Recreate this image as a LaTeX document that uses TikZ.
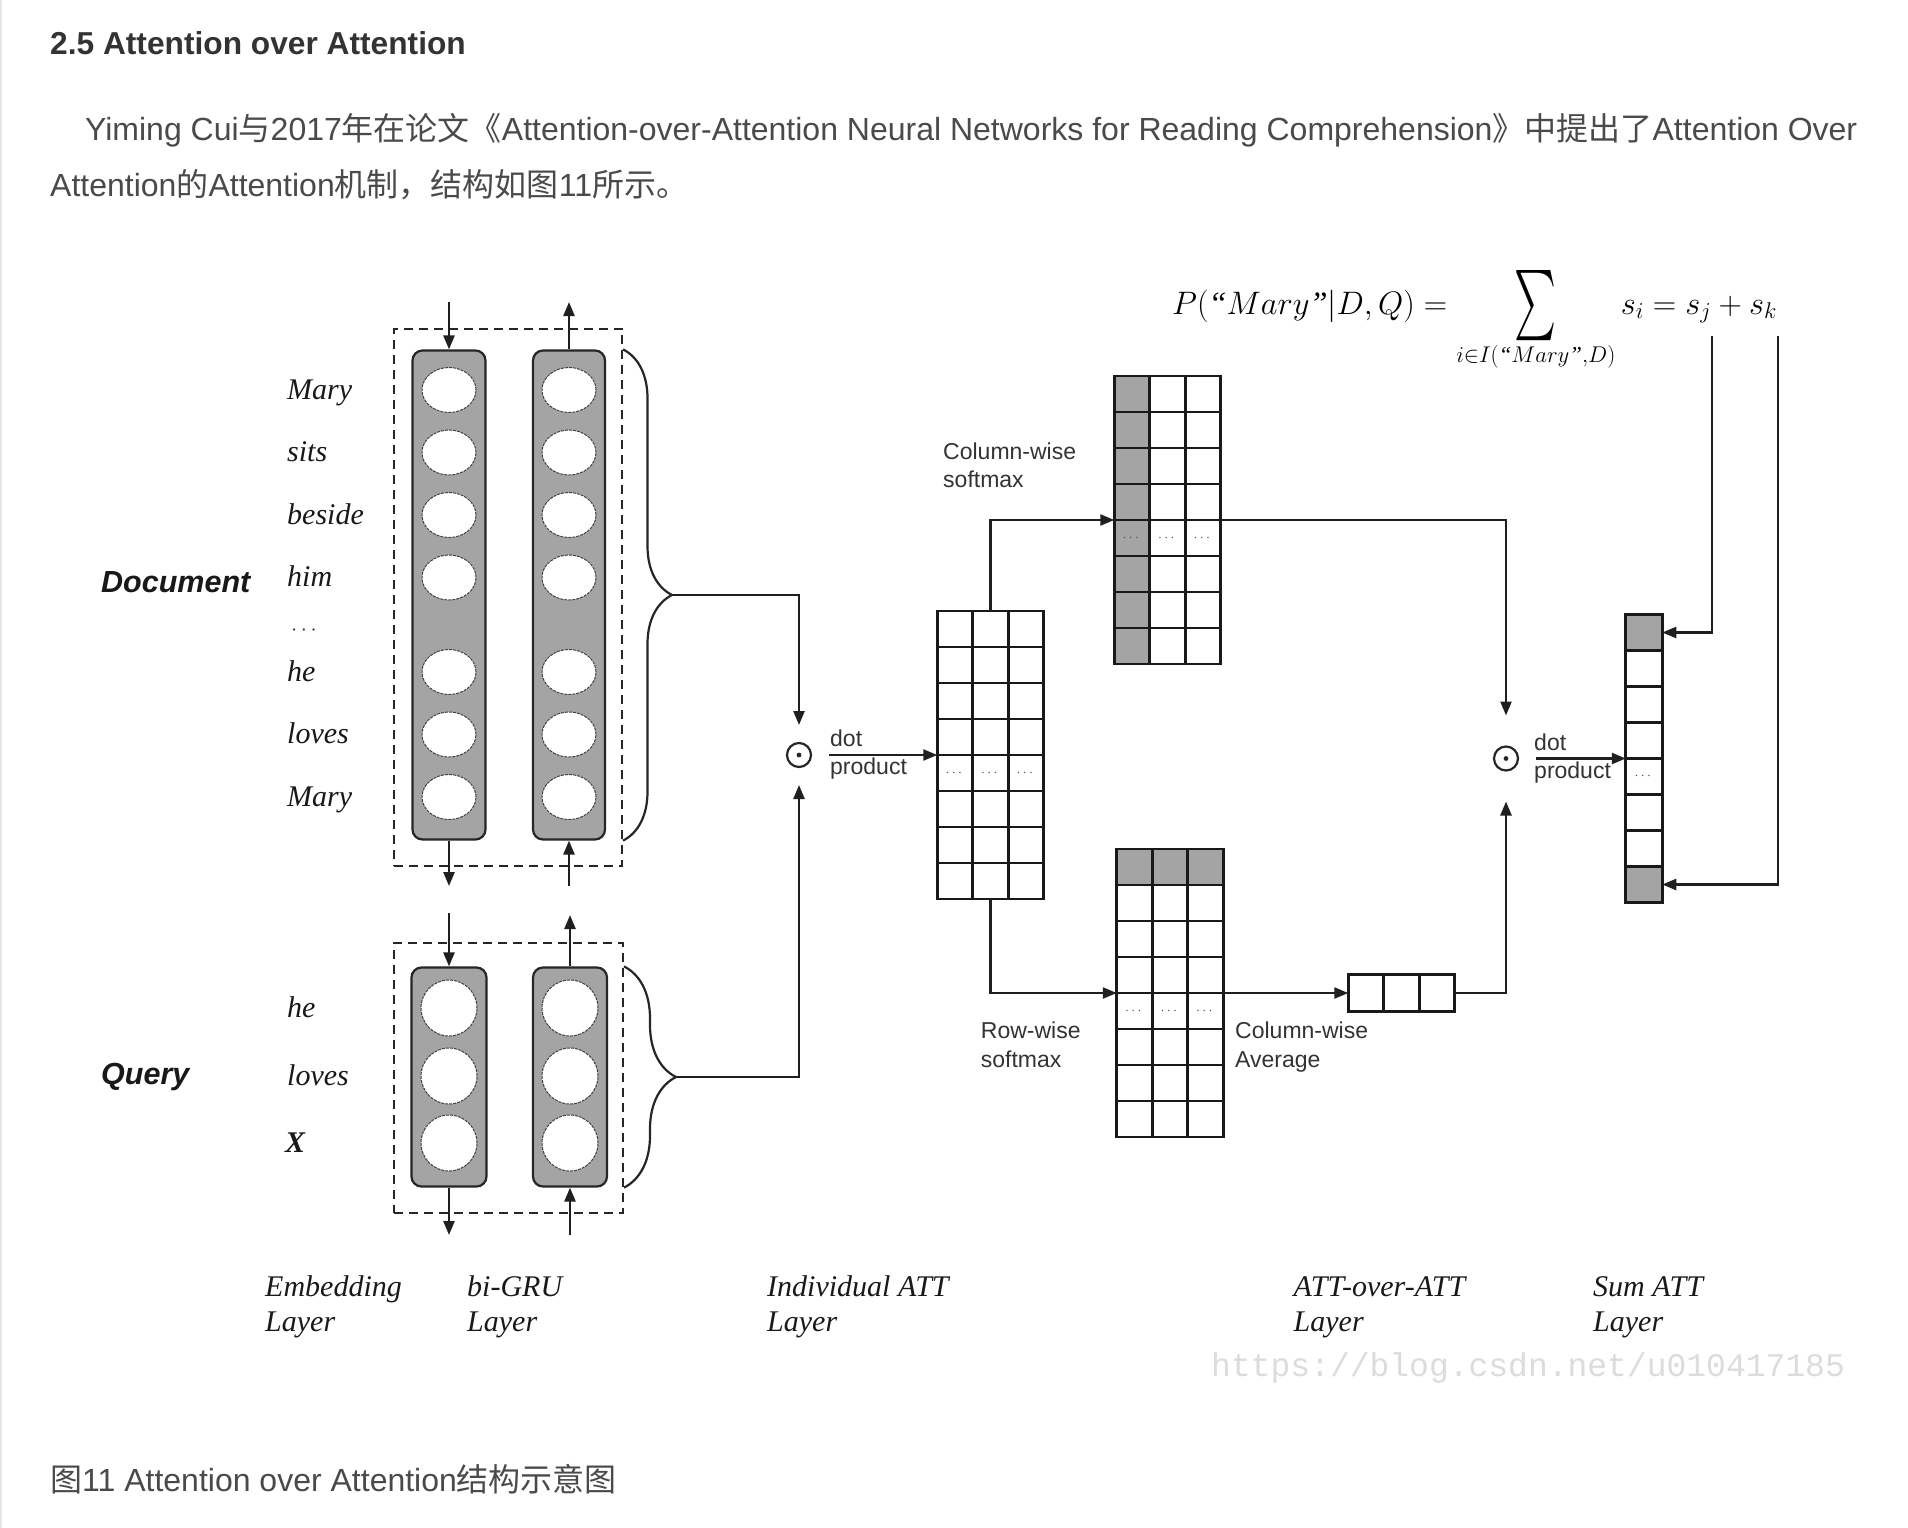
\documentclass[tikz,border=0pt]{standalone}
\usepackage{fix-cm}
\usepackage{fontspec}
\usepackage{amsmath}
\setmainfont{Liberation Serif}
\setsansfont{Liberation Sans}
\newfontfamily\cjkfont{Noto Sans CJK SC}
\newfontfamily\markfont{Liberation Mono}
\usetikzlibrary{arrows.meta,shapes.geometric,decorations.pathreplacing}
\definecolor{cellgray}{HTML}{A4A4A4}
\definecolor{inkgray}{HTML}{333333}
\definecolor{bodygray}{HTML}{4A4A4A}
\definecolor{markgray}{HTML}{DCDCDC}
\newcommand{\zh}[1]{{\cjkfont #1}}
\newcommand{\bigsum}{\mathop{\vcenter{\hbox{\resizebox{42pt}{58pt}{$\textstyle\sum$}}}}\limits}

\begin{document}
\begin{tikzpicture}[x=1pt,y=-1pt,
 blog/.style={anchor=base west,inner sep=0pt,text=bodygray,font=\sffamily\fontsize{32}{40}\selectfont},
 word/.style={anchor=base west,inner sep=0pt,text=black!90,font=\rmfamily\itshape\fontsize{30}{34}\selectfont},
 side/.style={anchor=base west,inner sep=0pt,text=black!90,font=\sffamily\bfseries\itshape\fontsize{30.5}{34}\selectfont},
 layer/.style={anchor=north west,inner sep=0pt,align=left,text=black!90,font=\rmfamily\itshape\fontsize{30}{35}\selectfont},
 lbl/.style={anchor=base west,inner sep=0pt,text=inkgray,font=\sffamily\fontsize{23}{28.4}\selectfont},
 lbltwo/.style={anchor=north west,inner sep=0pt,align=left,text=inkgray,font=\sffamily\fontsize{23}{28.4}\selectfont},
 dashbox/.style={draw=black!85,line width=2pt,dash pattern=on 9pt off 6pt},
 bar/.style={rounded corners=10pt,draw=black!85,line width=2.2pt,fill=cellgray},
 unit/.style={ellipse,draw=black!75,fill=white,line width=1pt,dash pattern=on 3pt off 1pt,inner sep=0pt},
 cellbox/.style={draw=black!90,line width=2.6pt,outer sep=0pt},
 gridline/.style={draw=black!90,line width=2.6pt},
 graycell/.style={fill=cellgray,inner sep=0pt,outer sep=0pt},
 cdots/.style={inner sep=0pt,text=black!70,font=\fontsize{14}{14}\selectfont},
 odot/.style={circle,draw=black!85,line width=2.2pt,minimum size=24pt,inner sep=0pt,outer sep=18pt,
  path picture={\fill[black!85] (path picture bounding box.center) circle[radius=2.4pt];}},
 flow/.style={-{Triangle[length=14pt,width=11pt]},draw=black!88,line width=2.4pt},
 curly/.style={decorate,draw=black!85,line width=2.2pt}]
\useasboundingbox (0,0) rectangle (1908,1528);
\fill[white] (0,0) rectangle (1908,1528);
\draw[markgray!70,line width=2pt] (1,0) -- (1,1528);
\node[blog,text=inkgray,font=\sffamily\bfseries\fontsize{31.7}{38}\selectfont] (title) at (50,54.5) {2.5 Attention over Attention};
\node[blog] (para1) at (85,140.7) {Yiming Cui\zh{与}2017\zh{年在论文《}Attention-over-Attention Neural Networks for Reading Comprehension\zh{》中提出了}Attention Over};
\node[blog] (para2) at (50,196.7) {Attention\zh{的}Attention\zh{机制，结构如图}11\zh{所示。}};
\node[blog] (caption) at (50,1491) {\zh{图}11 Attention over Attention\zh{结构示意图}};
\node[anchor=base west,inner sep=0pt,text=markgray,font=\markfont\fontsize{33}{33}\selectfont] (mark) at (1211,1376) {https://blog.csdn.net/u010417185};

\node[dashbox,minimum width=228,minimum height=537.5] (docbox) at (508,597.25) {};
\node[dashbox,minimum width=229,minimum height=270] (qbox) at (508.5,1078) {};
\node[bar,minimum width=73,minimum height=489] (embd) at (449,595) {};
\node[bar,minimum width=72,minimum height=489] (grud) at (569,595) {};
\node[bar,minimum width=75,minimum height=219] (embq) at (449,1077) {};
\node[bar,minimum width=74,minimum height=219] (gruq) at (570,1077) {};
\foreach \y [count=\i] in {390,452.5,515,577.5,672,734.5,797} {
 \node[unit,minimum width=54,minimum height=45] (ed\i) at (449,\y) {};
 \node[unit,minimum width=54,minimum height=45] (gd\i) at (569,\y) {};}
\foreach \y [count=\i] in {1008,1076,1143} {
 \node[unit,minimum width=56,minimum height=56] (eq\i) at (449,\y) {};
 \node[unit,minimum width=56,minimum height=56] (gq\i) at (570,\y) {};}
\foreach \w/\y [count=\i] in {Mary/390,sits/452.5,beside/515,him/577.5,he/672,loves/734.5,Mary/797}
 \node[word] (wd\i) at (287,\y+9) {\w};
\node[anchor=west,inner sep=0pt,text=black!80,font=\fontsize{22}{22}\selectfont] (wdots) at (291,631) {$\cdots$};
\node[word] (wq1) at (287,1017) {he};
\node[word] (wq2) at (287,1085) {loves};
\node[word,font=\rmfamily\bfseries\itshape\fontsize{30}{34}\selectfont] (wq3) at (285,1152) {X};
\node[side] (doclab) at (101,592.6) {Document};
\node[side] (qlab) at (101,1084) {Query};

\coordinate (edin) at (449,302); \coordinate (gdout) at (569,302);
\coordinate (edout) at (449,886); \coordinate (gdin) at (569,886);
\coordinate (eqin) at (449,913); \coordinate (gqout) at (570,915);
\coordinate (eqout) at (449,1235); \coordinate (gqin) at (570,1235);
\draw[flow] (edin) -- (embd.north); \draw[flow] (grud.north) -- (gdout);
\draw[flow] (embd.south) -- (edout); \draw[flow] (gdin) -- (grud.south);
\draw[flow] (eqin) -- (embq.north); \draw[flow] (gruq.north) -- (gqout);
\draw[flow] (embq.south) -- (eqout); \draw[flow] (gqin) -- (gruq.south);

\draw[curly,decoration={brace,amplitude=49pt}] (docbox.east |- embd.north) -- (docbox.east |- embd.south);
\draw[curly,decoration={brace,amplitude=52pt}] (qbox.east |- embq.north) -- (qbox.east |- embq.south);
\coordinate (dtip) at (672,595); \coordinate (qtip) at (676,1077);

\node[odot] (dot1) at (799,755) {};
\node[odot] (dot2) at (1506,758.5) {};
\node[graycell,minimum width=35.5,minimum height=288] (ucol) at (1132,520) {};
\node[graycell,minimum width=106.5,minimum height=36] (lrow) at (1170,867) {};
\node[graycell,minimum width=36.5,minimum height=36] (sfirst) at (1644,632.5) {};
\node[graycell,minimum width=36.5,minimum height=36] (slast) at (1644,884.5) {};
\node[cellbox,minimum width=106.5,minimum height=288] (indiv) at (990.5,755) {};
\node[cellbox,minimum width=106.5,minimum height=288] (colsm) at (1167.5,520) {};
\node[cellbox,minimum width=106.5,minimum height=288] (rowsm) at (1170,993) {};
\node[cellbox,minimum width=106.5,minimum height=36.5] (colavg) at (1401.5,993) {};
\node[cellbox,minimum width=36.5,minimum height=288] (sumatt) at (1644,758.5) {};
\foreach \m in {indiv,colsm,rowsm} {
 \foreach \r in {1,...,7} \draw[gridline] (\m.north west) ++(0,\r*36) -- ++(106.5,0);
 \foreach \c in {1,2} \draw[gridline] (\m.north west) ++(\c*35.5,0) -- ++(0,288);
 \foreach \c in {0,1,2} \node[cdots] (\m-d\c) at ([shift={(17.75+\c*35.5,162)}]\m.north west) {$\cdots$};}
\foreach \c in {1,2} \draw[gridline] (colavg.north west) ++(\c*35.5,0) -- ++(0,36.5);
\foreach \r in {1,...,7} \draw[gridline] (sumatt.north west) ++(0,\r*36) -- ++(36.5,0);
\node[cdots] (sumatt-d) at ([shift={(18.25,162)}]sumatt.north west) {$\cdots$};

\draw[flow] (dtip) -| (dot1.north);
\draw[flow] (qtip) -| (dot1.south);
\draw[flow] (dot1.east) -- (dot1 -| indiv.west);
\node[lbl] (dot1a) at (830,746) {dot};
\node[lbl] (dot1b) at (830,774) {product};
\draw[flow] (indiv.north) |- (colsm.west);
\draw[flow] (indiv.south) |- (rowsm.west);
\draw[flow] (rowsm.east) -- (colavg.west);
\draw[flow,shorten >=13pt] (colsm.east) -| (dot2.north);
\draw[flow,shorten >=13pt] (colavg.east) -| (dot2.south);
\draw[flow] (dot2.east) -- (dot2 -| sumatt.west);
\node[lbl] (dot2a) at (1534,750) {dot};
\node[lbl] (dot2b) at (1534,778) {product};
\node[lbltwo] (cwsoft) at (943,439.4) {\strut Column-wise\\softmax};
\node[lbltwo] (rwsoft) at (980.7,1018.6) {\strut Row-wise\\softmax};
\node[lbltwo] (cwavg) at (1235,1018.6) {\strut Column-wise\\Average};

\node[anchor=base west,inner sep=0pt,font=\fontsize{32.5}{38}\selectfont] (prob) at (1172,314)
 {$\displaystyle P(\text{\itshape“}Mary\text{\itshape”}|D,Q)=\bigsum_{\vphantom{|}i\in I(\text{\itshape“}Mary\text{\itshape”},D)} s_i=s_j+s_k$};
\coordinate (sj) at (1712,336); \coordinate (sk) at (1778,336);
\draw[flow] (sj) |- (sfirst.east);
\draw[flow] (sk) |- (slast.east);

\node[layer] (lemb) at (265,1272.2) {\strut Embedding\\Layer};
\node[layer] (lgru) at (467,1272.2) {\strut bi-GRU\\Layer};
\node[layer] (lind) at (767,1272.2) {\strut Individual ATT\\Layer};
\node[layer] (laoa) at (1293.5,1272.2) {\strut ATT-over-ATT\\Layer};
\node[layer] (lsum) at (1593,1272.2) {\strut Sum ATT\\Layer};
\end{tikzpicture}
\end{document}
